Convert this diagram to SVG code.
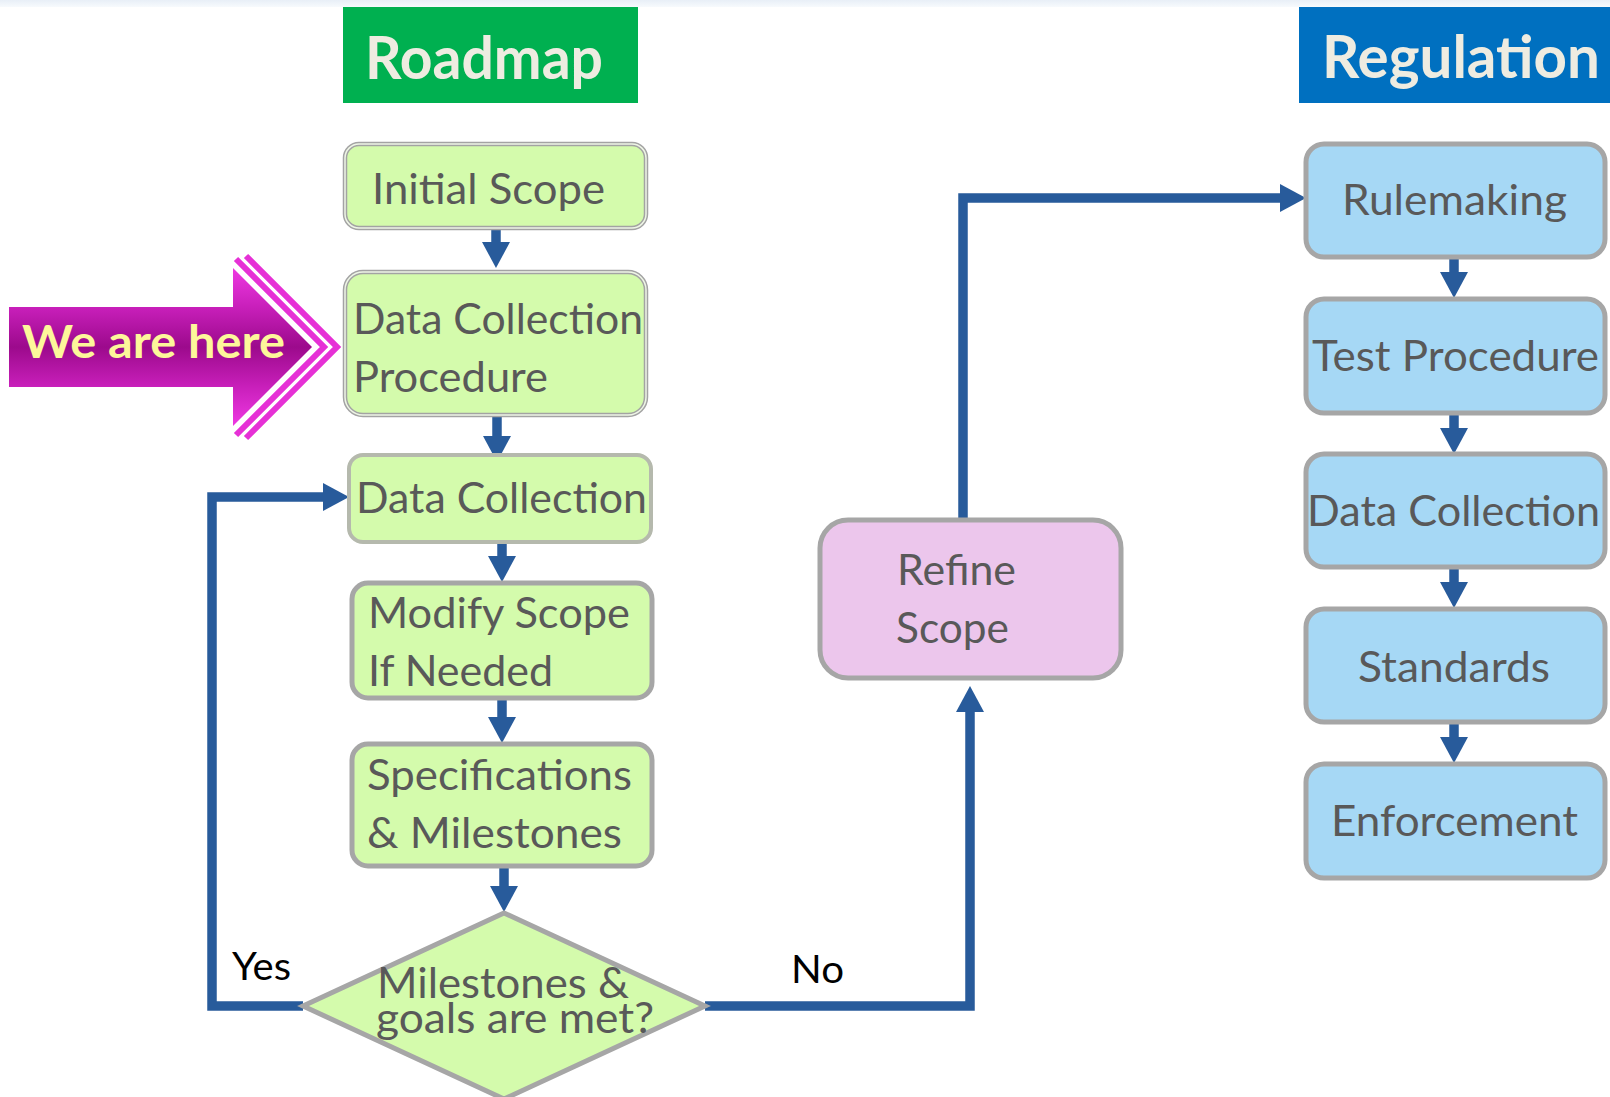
<svg xmlns="http://www.w3.org/2000/svg" width="1610" height="1097" viewBox="0 0 1610 1097">
  <defs>
    <linearGradient id="topHaze" x1="0" y1="0" x2="0" y2="1">
      <stop offset="0" stop-color="#e8eff7"/>
      <stop offset="1" stop-color="#f7fafd"/>
    </linearGradient>
    <linearGradient id="hereFill" gradientUnits="userSpaceOnUse" x1="0" y1="268" x2="0" y2="426">
      <stop offset="0" stop-color="#ee38e2"/>
      <stop offset="0.25" stop-color="#c81fba"/>
      <stop offset="0.5" stop-color="#9c0a8c"/>
      <stop offset="0.75" stop-color="#c81fba"/>
      <stop offset="1" stop-color="#ee38e2"/>
    </linearGradient>
    <marker id="head" markerUnits="userSpaceOnUse" markerWidth="26" markerHeight="28" viewBox="0 0 26 28" refX="0" refY="14" orient="auto">
      <path d="M0,0 L26,14 L0,28 Z" fill="#285b9b"/>
    </marker>
  </defs>
  <style>
    text { font-family: Lato, "Open Sans", "Liberation Sans", sans-serif; }
    .lbl { font-size: 42px; fill: #595959; }
    .hdr { font-size: 60px; font-weight: 700; fill: #eeece1; }
    .yn { font-size: 39px; fill: #000000; }
    .green { fill: #d4fbac; }
    .blue { fill: #a6d8f5; stroke: #a6a6a6; stroke-width: 5; }
    .grey { stroke: #a6a6a6; stroke-width: 5; }
    .dbl-out { fill: #d4fbac; stroke: #a3a3a3; stroke-width: 4.5; }
    .dbl-in { fill: none; stroke: #eef5e6; stroke-width: 1.5; }
    .conn { fill: none; stroke: #285b9b; stroke-width: 9.5; stroke-linejoin: miter; stroke-linecap: butt; }
    .arr { marker-end: url(#head); }
    .chev { fill: none; stroke: #e630d6; stroke-width: 6; stroke-linejoin: miter; }
  </style>

  <!-- faint band along the top edge -->
  <rect x="0" y="0" width="1610" height="7" fill="url(#topHaze)"/>

  <!-- column headers -->
  <g id="hdr-roadmap">
    <rect x="343" y="7" width="295" height="96" fill="#00b050"/>
    <text class="hdr" x="365" y="79" textLength="238" lengthAdjust="spacingAndGlyphs">Roadmap</text>
  </g>
  <g id="hdr-regulation">
    <rect x="1299" y="7" width="311" height="96" fill="#0070c0"/>
    <text class="hdr" x="1322" y="78" textLength="278" lengthAdjust="spacingAndGlyphs">Regulation</text>
  </g>

  <!-- "We are here" pointer -->
  <g id="we-are-here">
    <polygon points="9,307 233,307 233,268 312,347 233,426 233,387 9,387" fill="url(#hereFill)"/>
    <polyline class="chev" points="236,259 324,347 236,435"/>
    <polyline class="chev" points="246,256 337,347 246,438"/>
    <text x="22" y="358" font-size="46" font-weight="700" fill="#fdf79a" textLength="263" lengthAdjust="spacingAndGlyphs">We are here</text>
  </g>

  <!-- connectors -->
  <g id="connectors">
    <path class="conn arr" d="M496,228 V242"/>
    <path class="conn arr" d="M497,416 V436"/>
    <path class="conn arr" d="M502,542 V556"/>
    <path class="conn arr" d="M502,699 V717"/>
    <path class="conn arr" d="M504,867 V886"/>
    <path class="conn arr" d="M303,1006 H212 V497 H323"/>
    <path class="conn arr" d="M705,1006 H970 V712"/>
    <path class="conn arr" d="M963,520 V198 H1280"/>
    <path class="conn arr" d="M1454,258 V272"/>
    <path class="conn arr" d="M1454,414 V428"/>
    <path class="conn arr" d="M1454,568 V582"/>
    <path class="conn arr" d="M1454,723 V737"/>
  </g>

  <!-- roadmap column -->
  <g id="initial-scope">
    <rect class="dbl-out" x="345" y="144" width="301" height="84" rx="14"/>
    <rect class="dbl-in" x="345" y="144" width="301" height="84" rx="14"/>
    <text class="lbl" x="372" y="204" textLength="233" lengthAdjust="spacingAndGlyphs">Initial Scope</text>
  </g>
  <g id="data-collection-procedure">
    <rect class="dbl-out" x="345" y="272" width="301" height="143" rx="18"/>
    <rect class="dbl-in" x="345" y="272" width="301" height="143" rx="18"/>
    <text class="lbl" x="353" y="334" textLength="290" lengthAdjust="spacingAndGlyphs">Data Collection</text>
    <text class="lbl" x="353" y="392" textLength="195" lengthAdjust="spacingAndGlyphs">Procedure</text>
  </g>
  <g id="data-collection">
    <rect class="green" x="349" y="455" width="302" height="87" rx="14" stroke="#b5b9ad" stroke-width="4"/>
    <text class="lbl" x="356" y="513" textLength="291" lengthAdjust="spacingAndGlyphs">Data Collection</text>
  </g>
  <g id="modify-scope">
    <rect class="green grey" x="352" y="583" width="300" height="115" rx="16"/>
    <text class="lbl" x="368" y="628" textLength="262" lengthAdjust="spacingAndGlyphs">Modify Scope</text>
    <text class="lbl" x="368" y="686" textLength="185" lengthAdjust="spacingAndGlyphs">If Needed</text>
  </g>
  <g id="specifications">
    <rect class="green grey" x="352" y="744" width="300" height="122" rx="16"/>
    <text class="lbl" x="367" y="790" textLength="265" lengthAdjust="spacingAndGlyphs">Specifications</text>
    <text class="lbl" x="367" y="848" textLength="255" lengthAdjust="spacingAndGlyphs">&amp; Milestones</text>
  </g>
  <g id="decision">
    <polygon class="green grey" points="303,1006 504,913 705,1006 504,1099"/>
    <text class="lbl" x="377" y="998" font-size="40" textLength="252" lengthAdjust="spacingAndGlyphs">Milestones &amp;</text>
    <text class="lbl" x="376" y="1033" font-size="40" textLength="278" lengthAdjust="spacingAndGlyphs">goals are met?</text>
  </g>
  <text class="yn" x="232" y="980" textLength="59" lengthAdjust="spacingAndGlyphs">Yes</text>
  <text class="yn" x="791" y="983" textLength="53" lengthAdjust="spacingAndGlyphs">No</text>

  <!-- refine step -->
  <g id="refine-scope">
    <rect x="820" y="520" width="301" height="158" rx="28" fill="#ecc6ec" stroke="#a6a6a6" stroke-width="5"/>
    <text class="lbl" x="897" y="585" textLength="119" lengthAdjust="spacingAndGlyphs">Refine</text>
    <text class="lbl" x="896" y="643" textLength="113" lengthAdjust="spacingAndGlyphs">Scope</text>
  </g>

  <!-- regulation column -->
  <g id="rulemaking">
    <rect class="blue" x="1306" y="144" width="299" height="113" rx="18"/>
    <text class="lbl" x="1342" y="215" textLength="225" lengthAdjust="spacingAndGlyphs">Rulemaking</text>
  </g>
  <g id="test-procedure">
    <rect class="blue" x="1306" y="299" width="299" height="114" rx="18"/>
    <text class="lbl" x="1312" y="371" textLength="287" lengthAdjust="spacingAndGlyphs">Test Procedure</text>
  </g>
  <g id="reg-data-collection">
    <rect class="blue" x="1306" y="454" width="299" height="113" rx="18"/>
    <text class="lbl" x="1307" y="526" textLength="293" lengthAdjust="spacingAndGlyphs">Data Collection</text>
  </g>
  <g id="standards">
    <rect class="blue" x="1306" y="609" width="299" height="113" rx="18"/>
    <text class="lbl" x="1358" y="682" textLength="192" lengthAdjust="spacingAndGlyphs">Standards</text>
  </g>
  <g id="enforcement">
    <rect class="blue" x="1306" y="764" width="299" height="114" rx="18"/>
    <text class="lbl" x="1331" y="836" textLength="247" lengthAdjust="spacingAndGlyphs">Enforcement</text>
  </g>
</svg>
